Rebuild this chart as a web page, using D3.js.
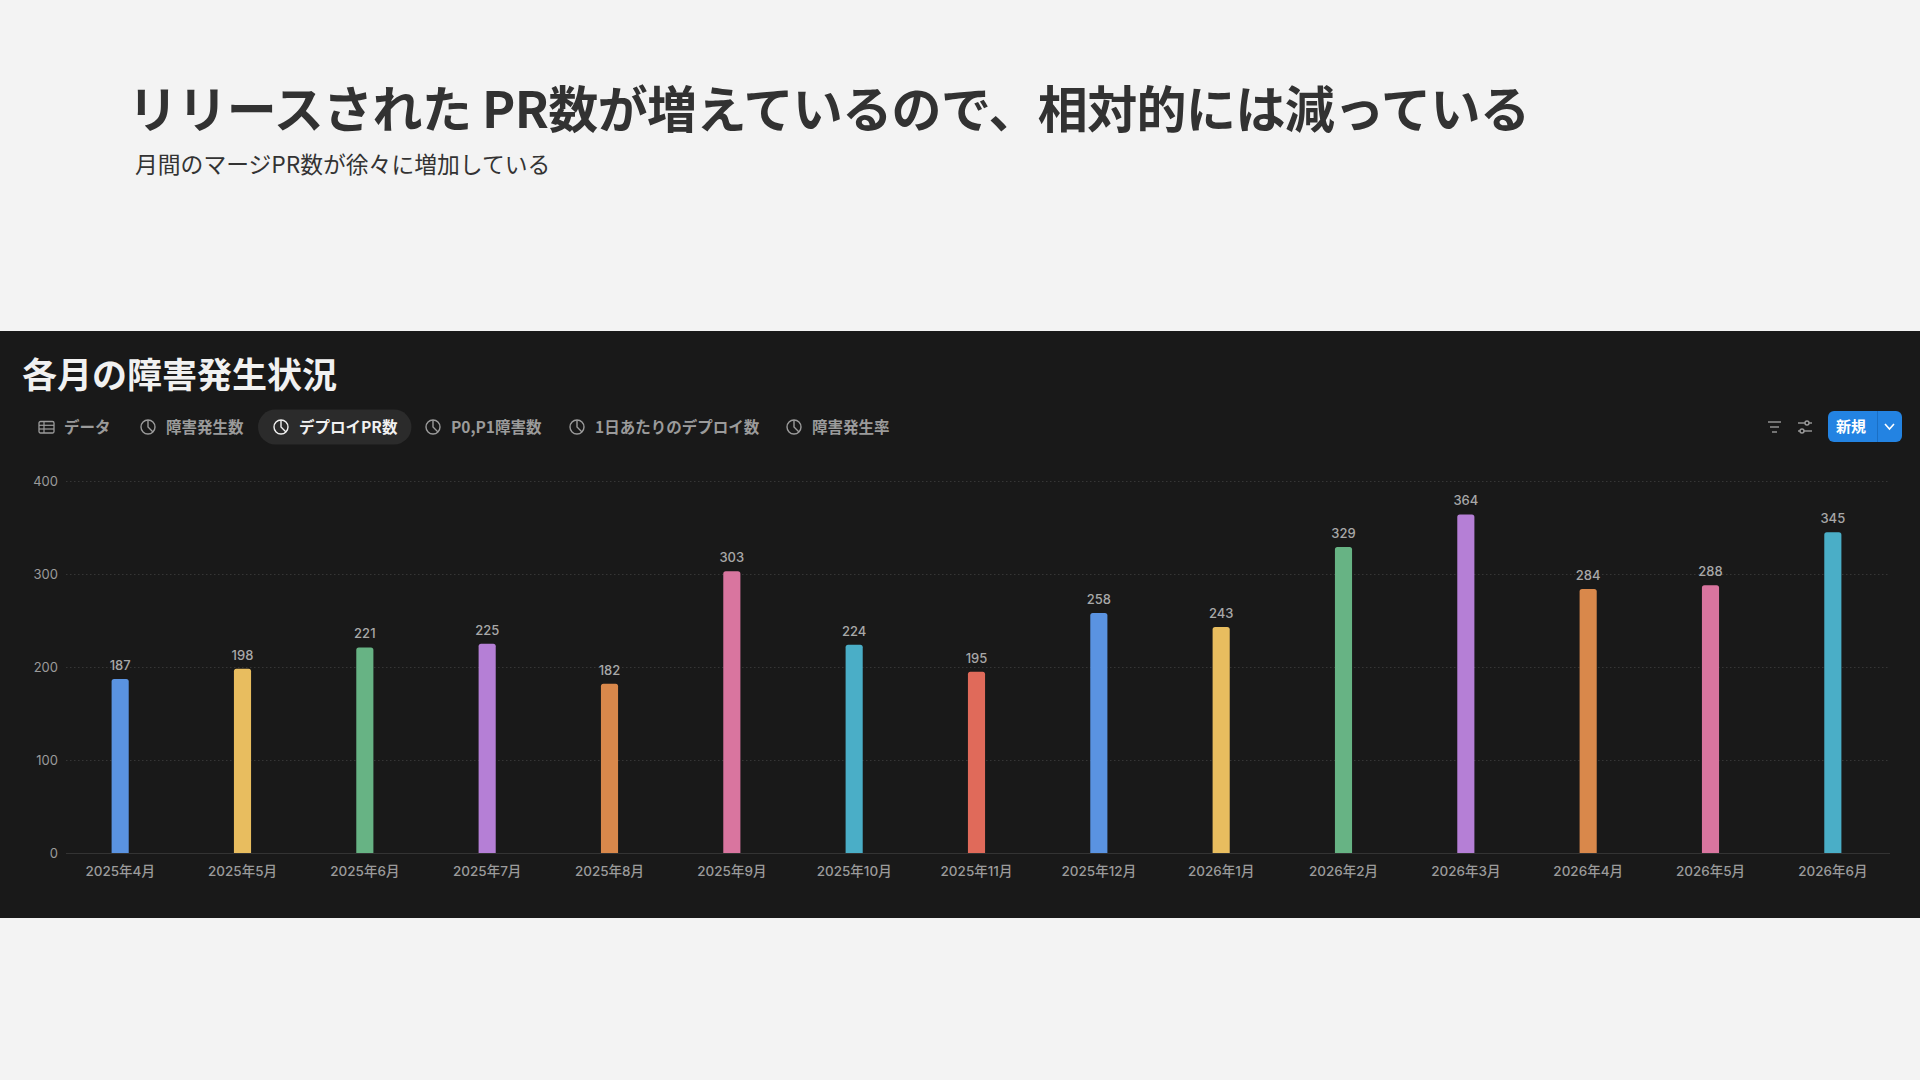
<!DOCTYPE html>
<html>
<head>
<meta charset="utf-8">
<script src="https://cdn.jsdelivr.net/npm/d3@7"></script>
<style>
  body { margin: 0; background: #f3f3f3; }
  svg { display: block; font-family: "Inter", "Noto Sans CJK JP", sans-serif; }
</style>
</head>
<body>
<div id="chart"></div>
<script>
// Data
const MONTHS = ['2025年4月', '2025年5月', '2025年6月', '2025年7月', '2025年8月', '2025年9月',
  '2025年10月', '2025年11月', '2025年12月', '2026年1月', '2026年2月', '2026年3月',
  '2026年4月', '2026年5月', '2026年6月'];
const DEPLOY_PR = [187, 198, 221, 225, 182, 303, 224, 195, 258, 243, 329, 364, 284, 288, 345];
const Y_TICKS = [0, 100, 200, 300, 400];
const TABS = ['データ', '障害発生数', 'デプロイPR数', 'P0,P1障害数', '1日あたりのデプロイ数', '障害発生率'];
const BAR_COLORS = ['#5a93e1', '#e8bd5f', '#67b384', '#b57fd6', '#d9884b', '#d9759f', '#4aaec7', '#e06a5a'];

const WIDTH = 1920;
const HEIGHT = 1080;
const JP = '"Noto Sans CJK JP", sans-serif';

const svg = d3.select('#chart')
  .append('svg')
  .attr('width', WIDTH)
  .attr('height', HEIGHT);

// Slide heading
svg.append('text')
  .attr('x', 128)
  .attr('y', 128)
  .attr('font-family', JP)
  .attr('font-size', 50)
  .attr('font-weight', 700)
  .attr('letter-spacing', -0.6)
  .attr('fill', '#323232')
  .text('リリースされた PR数が増えているので、相対的には減っている');

svg.append('text')
  .attr('x', 135)
  .attr('y', 173)
  .attr('font-family', JP)
  .attr('font-size', 22.8)
  .attr('fill', '#333333')
  .text('月間のマージPR数が徐々に増加している');

// Dark Notion panel
const panel = svg.append('g');
panel.append('rect')
  .attr('x', 0).attr('y', 331)
  .attr('width', WIDTH).attr('height', 587)
  .attr('fill', '#191919');

panel.append('text')
  .attr('x', 22)
  .attr('y', 388)
  .attr('font-family', JP)
  .attr('font-size', 35)
  .attr('font-weight', 700)
  .attr('fill', '#f1f1f1')
  .text('各月の障害発生状況');

// Tabs
const TAB_X = [38, 140, 273, 425, 569, 786];
const tabY = 427;
TABS.forEach((t, i) => {
  const g = panel.append('g').attr('transform', `translate(${TAB_X[i]}, ${tabY})`);
  const active = i === 2;
  const col = active ? '#f1f1f1' : '#9b9b9b';
  const tx = g.append('text')
    .attr('x', 26)
    .attr('y', 5.5)
    .attr('font-family', JP)
    .attr('font-size', 15.5)
    .attr('font-weight', 700)
    .attr('fill', col)
    .text(t);
  if (active) {
    const w = tx.node().getComputedTextLength();
    g.insert('rect', 'text')
      .attr('x', -15).attr('y', -17.5)
      .attr('width', w + 55).attr('height', 35)
      .attr('rx', 17.5)
      .attr('fill', '#2b2b2b');
  }
  if (i === 0) {
    // table icon
    g.append('rect').attr('x', 1).attr('y', -5.5).attr('width', 15).attr('height', 11.5).attr('rx', 1.5)
      .attr('fill', 'none').attr('stroke', col).attr('stroke-width', 1.3);
    g.append('line').attr('x1', 1).attr('x2', 16).attr('y1', -1.7).attr('y2', -1.7).attr('stroke', col).attr('stroke-width', 1.2);
    g.append('line').attr('x1', 1).attr('x2', 16).attr('y1', 2).attr('y2', 2).attr('stroke', col).attr('stroke-width', 1.2);
    g.append('line').attr('x1', 6).attr('x2', 6).attr('y1', -5.5).attr('y2', 6).attr('stroke', col).attr('stroke-width', 1.2);
  } else {
    // pie chart icon
    g.append('circle').attr('cx', 8).attr('cy', 0).attr('r', 7)
      .attr('fill', 'none').attr('stroke', col).attr('stroke-width', 1.4);
    g.append('path').attr('d', 'M8,-7 L8,0 L13,5')
      .attr('fill', 'none').attr('stroke', col).attr('stroke-width', 1.4);
  }
});

// Right controls
const ctl = panel.append('g').attr('stroke', '#9b9b9b').attr('stroke-width', 1.4).attr('fill', 'none');
ctl.append('line').attr('x1', 1768).attr('x2', 1781).attr('y1', 422).attr('y2', 422);
ctl.append('line').attr('x1', 1770).attr('x2', 1779).attr('y1', 427).attr('y2', 427);
ctl.append('line').attr('x1', 1772).attr('x2', 1777).attr('y1', 432).attr('y2', 432);
ctl.append('line').attr('x1', 1798).attr('x2', 1812).attr('y1', 423).attr('y2', 423);
ctl.append('line').attr('x1', 1798).attr('x2', 1812).attr('y1', 431).attr('y2', 431);
ctl.append('circle').attr('cx', 1807).attr('cy', 423).attr('r', 2).attr('fill', '#191919');
ctl.append('circle').attr('cx', 1802).attr('cy', 431).attr('r', 2).attr('fill', '#191919');

panel.append('rect')
  .attr('x', 1828).attr('y', 411)
  .attr('width', 74).attr('height', 31)
  .attr('rx', 6)
  .attr('fill', '#2383e2');
panel.append('line')
  .attr('x1', 1877.5).attr('x2', 1877.5).attr('y1', 411).attr('y2', 442)
  .attr('stroke', '#1a6fc4').attr('stroke-width', 1);
panel.append('text')
  .attr('x', 1836).attr('y', 432)
  .attr('font-family', JP)
  .attr('font-size', 15)
  .attr('font-weight', 700)
  .attr('fill', '#ffffff')
  .text('新規');
panel.append('path')
  .attr('d', 'M1885,424 L1889.5,429 L1894,424')
  .attr('fill', 'none').attr('stroke', '#ffffff').attr('stroke-width', 1.6);

// Chart
const X0 = 59, X1 = 1894;
const xScale = d3.scaleBand()
  .domain(MONTHS)
  .range([X0, X1])
  .paddingInner(0.86)
  .paddingOuter(0.43);

const yScale = d3.scaleLinear()
  .domain([0, 400])
  .range([853, 481]);

const grid = panel.append('g')
  .attr('transform', 'translate(66, 0)')
  .call(d3.axisLeft(yScale).tickValues(Y_TICKS.slice(1)).tickSize(-(1890 - 66)).tickFormat(''));
grid.select('.domain').remove();
grid.selectAll('line')
  .attr('stroke', '#363636')
  .attr('stroke-dasharray', '1.5,2.5');

const yAxis = panel.append('g')
  .attr('transform', 'translate(58, 0)')
  .call(d3.axisLeft(yScale).tickValues(Y_TICKS).tickSize(0).tickPadding(0));
yAxis.select('.domain').remove();
yAxis.selectAll('text')
  .attr('font-family', '"Inter", sans-serif')
  .attr('font-size', 13)
  .attr('fill', '#9b9b9b');

panel.append('line')
  .attr('x1', 66).attr('x2', 1890)
  .attr('y1', yScale(0) + 0.5).attr('y2', yScale(0) + 0.5)
  .attr('stroke', '#333333').attr('stroke-width', 1);

const xAxis = panel.append('g')
  .attr('transform', `translate(0, ${yScale(0)})`)
  .call(d3.axisBottom(xScale).tickSize(0).tickPadding(13));
xAxis.select('.domain').remove();
xAxis.selectAll('text')
  .attr('font-family', '"Inter", "Noto Sans CJK JP", sans-serif')
  .attr('font-size', 13.5)
  .attr('font-weight', 500)
  .attr('fill', '#9b9b9b');

const bw = xScale.bandwidth();
panel.selectAll('.bar')
  .data(DEPLOY_PR)
  .join('path')
  .attr('class', 'bar')
  .attr('fill', (d, i) => BAR_COLORS[i % BAR_COLORS.length])
  .attr('d', (d, i) => {
    const x = xScale(MONTHS[i]);
    const y = yScale(d);
    const h = yScale(0) - y;
    const r = 2.5;
    return `M${x},${y + h} L${x},${y + r} Q${x},${y} ${x + r},${y} L${x + bw - r},${y} Q${x + bw},${y} ${x + bw},${y + r} L${x + bw},${y + h} Z`;
  });

panel.selectAll('.val')
  .data(DEPLOY_PR)
  .join('text')
  .attr('class', 'val')
  .attr('x', (d, i) => xScale(MONTHS[i]) + bw / 2)
  .attr('y', d => yScale(d) - 9)
  .attr('text-anchor', 'middle')
  .attr('font-family', '"Inter", sans-serif')
  .attr('font-size', 13)
  .attr('font-weight', 500)
  .attr('fill', '#a8a8a8')
  .text(d => d);
</script>
</body>
</html>
